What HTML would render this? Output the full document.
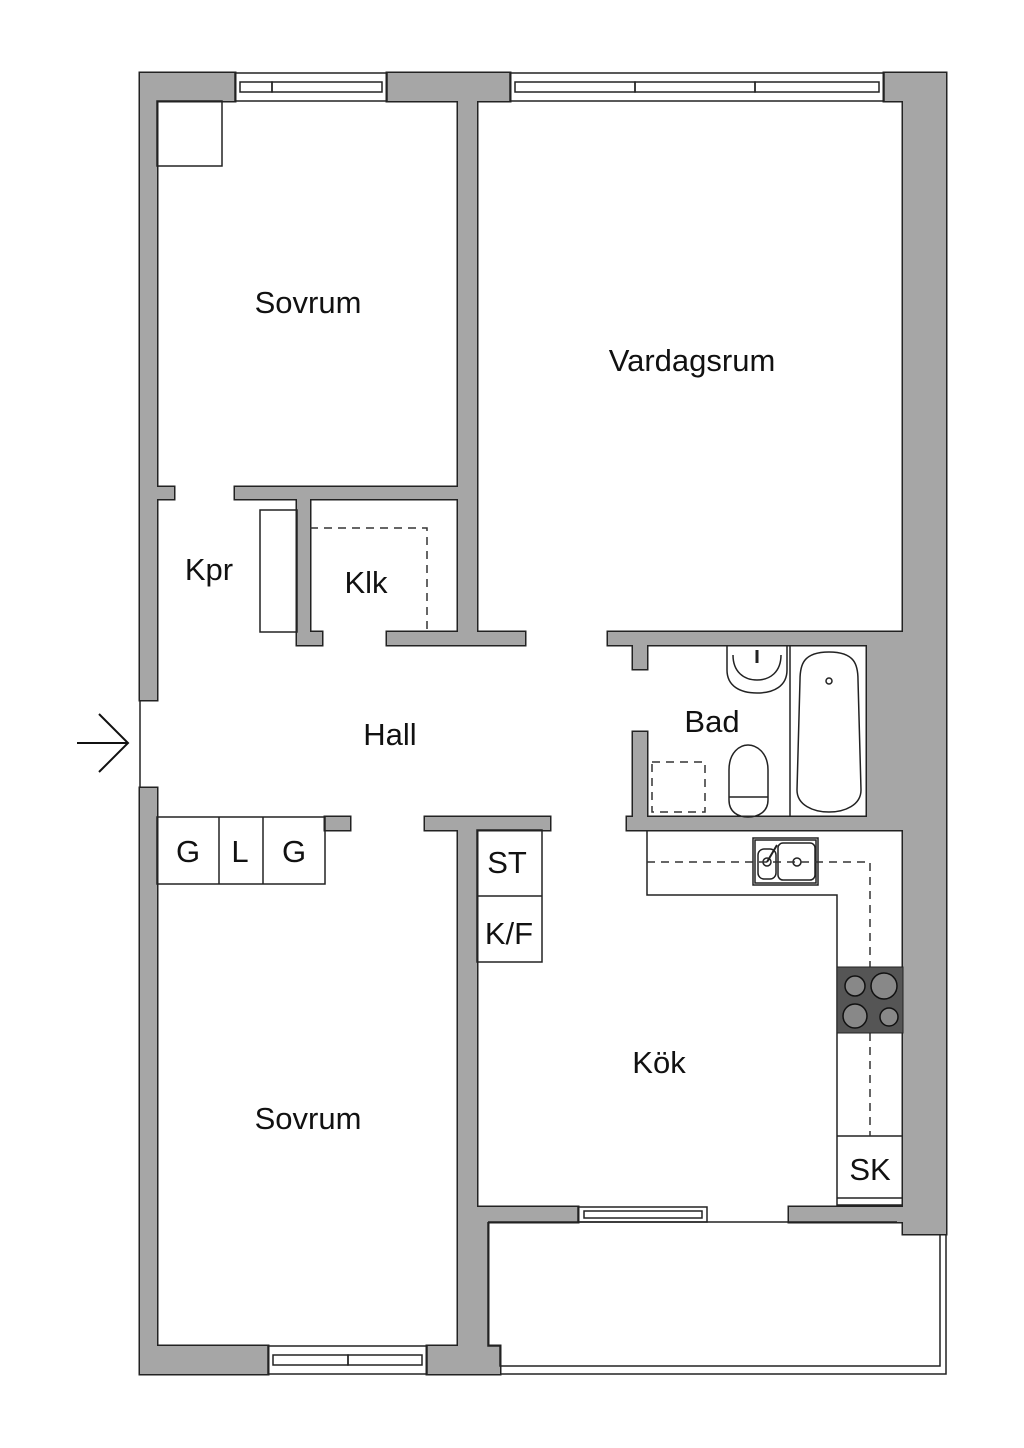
<!DOCTYPE html>
<html><head><style>html,body{margin:0;padding:0;background:#fff}svg{display:block}text{font-family:"Liberation Sans",sans-serif;fill:#111}</style></head><body>
<svg width="1024" height="1448" viewBox="0 0 1024 1448" xmlns="http://www.w3.org/2000/svg">
<defs>
<g id="walls">
<rect x="140" y="73" width="17" height="627"/>
<rect x="140" y="788" width="17" height="586"/>
<rect x="140" y="73" width="95" height="28"/>
<rect x="387" y="73" width="123" height="28"/>
<rect x="884" y="73" width="62" height="28"/>
<rect x="903" y="73" width="43" height="1161"/>
<rect x="867" y="645" width="36" height="172"/>
<rect x="458" y="101" width="19" height="531"/>
<rect x="235" y="487" width="223" height="12"/>
<rect x="157" y="487" width="17" height="12"/>
<rect x="297" y="499" width="13" height="146"/>
<rect x="297" y="632" width="25" height="13"/>
<rect x="387" y="632" width="138" height="13"/>
<rect x="458" y="620" width="19" height="20"/>
<rect x="608" y="632" width="295" height="13"/>
<rect x="633" y="640" width="14" height="29"/>
<rect x="633" y="732" width="14" height="90"/>
<rect x="627" y="817" width="276" height="13"/>
<rect x="325" y="817" width="25" height="13"/>
<rect x="425" y="817" width="125" height="13"/>
<rect x="458" y="817" width="19" height="400"/>
<rect x="458" y="1207" width="120" height="15"/>
<rect x="789" y="1207" width="114" height="15"/>
<rect x="458" y="1207" width="30" height="145"/>
<rect x="427" y="1346" width="73" height="28"/>
<rect x="140" y="1346" width="128" height="28"/>
</g>
</defs>
<use href="#walls" fill="#a6a6a6" stroke="#222" stroke-width="3"/>
<use href="#walls" fill="#a6a6a6" stroke="none"/>
<g fill="none" stroke="#222" stroke-width="1.5">
<rect x="235" y="73" width="152" height="28"/>
<rect x="240" y="82" width="32" height="10"/><rect x="272" y="82" width="110" height="10"/>
<rect x="510" y="73" width="374" height="28"/>
<rect x="515" y="82" width="120" height="10"/><rect x="635" y="82" width="120" height="10"/><rect x="755" y="82" width="124" height="10"/>
<rect x="268" y="1346" width="159" height="28"/>
<rect x="273" y="1355" width="75" height="10"/><rect x="348" y="1355" width="74" height="10"/>
<rect x="578" y="1207" width="129" height="15"/>
<rect x="584" y="1211" width="118" height="7"/>
<line x1="140" y1="700" x2="140" y2="788"/>
<rect x="157" y="101" width="65" height="65"/>
<rect x="260" y="510" width="37" height="122"/>
<rect x="157" y="817" width="168" height="67"/>
<line x1="219" y1="817" x2="219" y2="884"/><line x1="263" y1="817" x2="263" y2="884"/>
<rect x="477" y="830" width="65" height="132"/><line x1="477" y1="896" x2="542" y2="896"/>
<polyline points="647,830 647,895 837,895 837,1205 903,1205"/>
<line x1="837" y1="1136" x2="903" y2="1136"/>
<line x1="837" y1="1198" x2="903" y2="1198"/>
<line x1="790" y1="645" x2="790" y2="817"/>
<path d="M829 652 C855 652 858 665 858 680 L861 790 C861 805 845 812 829 812 C813 812 797 805 797 790 L800 680 C800 665 803 652 829 652 Z"/>
<circle cx="829" cy="681" r="3"/>
<path d="M727 645 L727 670 C727 686 740 693 757 693 C774 693 787 686 787 670 L787 645"/>
<path d="M733 655 C733 672 744 680 757 680 C770 680 781 672 781 655"/>
<line x1="757" y1="650" x2="757" y2="663" stroke-width="3"/>
<path d="M729 800 L729 770 C729 752 740 745 748 745 C756 745 768 752 768 770 L768 800 C768 812 758 817 748 817 C738 817 729 812 729 800 Z"/>
<line x1="729" y1="797" x2="768" y2="797"/>
<rect x="753" y="838" width="65" height="47"/><rect x="755" y="840" width="61" height="43"/>
<rect x="758" y="849" width="18" height="30" rx="6"/><rect x="778" y="843" width="37" height="37" rx="5"/>
<circle cx="767" cy="862" r="4"/><circle cx="797" cy="862" r="4"/>
<line x1="767" y1="862" x2="777" y2="845" stroke-width="2"/>
<polyline points="488,1222 488,1346 500,1346 500,1366 940,1366 940,1234"/>
<polyline points="500,1374 946,1374 946,1234"/>
<line x1="488" y1="1222" x2="897" y2="1222"/>
</g>
<g fill="none" stroke="#333" stroke-width="1.5" stroke-dasharray="8,6">
<polyline points="310,528 427,528 427,632"/>
<rect x="652" y="762" width="53" height="50"/>
<polyline points="647,862 870,862 870,967"/>
<line x1="870" y1="1033" x2="870" y2="1136"/>
</g>
<rect x="837" y="967" width="66" height="66" fill="#555" stroke="#222"/>
<g fill="#888" stroke="#111" stroke-width="1.5">
<circle cx="855" cy="986" r="10"/><circle cx="884" cy="986" r="13"/>
<circle cx="855" cy="1016" r="12"/><circle cx="889" cy="1017" r="9"/>
</g>
<g fill="none" stroke="#111" stroke-width="2">
<line x1="77" y1="743" x2="128" y2="743"/><polyline points="99,714 128,743 99,772"/>
</g>
<g font-size="31" text-anchor="middle">
<text x="308" y="313">Sovrum</text>
<text x="692" y="371">Vardagsrum</text>
<text x="209" y="580">Kpr</text>
<text x="366" y="593">Klk</text>
<text x="390" y="745">Hall</text>
<text x="712" y="732">Bad</text>
<text x="188" y="862">G</text>
<text x="240" y="862">L</text>
<text x="294" y="862">G</text>
<text x="507" y="873">ST</text>
<text x="509" y="944">K/F</text>
<text x="659" y="1073">Kök</text>
<text x="308" y="1129">Sovrum</text>
<text x="870" y="1180">SK</text>
</g>
</svg>
</body></html>
